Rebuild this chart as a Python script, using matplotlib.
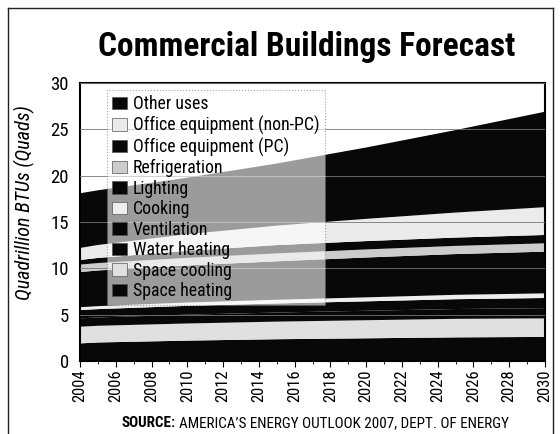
import numpy as np
import matplotlib
matplotlib.use("Agg")
import matplotlib.pyplot as plt
from matplotlib.lines import Line2D
from matplotlib import font_manager

# ── Data (quadrillion BTUs) ──────────────────────────────────────────────────

YEARS = [2004, 2005, 2010, 2015, 2020, 2025, 2030]

SPACE_HEATING = [1.90, 2.00, 2.20, 2.35, 2.45, 2.55, 2.60]
SPACE_COOLING = [1.80, 1.80, 1.85, 1.90, 1.95, 2.00, 2.00]
WATER_HEATING = [0.90, 0.90, 0.95, 0.98, 1.02, 1.06, 1.10]
VENTILATION   = [0.90, 0.90, 0.95, 0.98, 1.02, 1.06, 1.10]
COOKING       = [0.30, 0.32, 0.36, 0.40, 0.43, 0.47, 0.50]
LIGHTING      = [3.80, 3.85, 4.00, 4.15, 4.30, 4.40, 4.50]
REFRIGERATION = [0.80, 0.80, 0.82, 0.85, 0.87, 0.88, 0.90]
OFFICE_PC     = [0.50, 0.55, 0.75, 0.90, 0.90, 0.90, 0.90]
OFFICE_NONPC  = [1.30, 1.40, 1.80, 2.10, 2.40, 2.70, 3.00]
OTHER_USES    = [5.90, 5.90, 6.10, 6.70, 7.70, 8.90, 10.30]

LAYER_NAMES = ["Space heating", "Space cooling", "Water heating", "Ventilation",
               "Cooking", "Lighting", "Refrigeration", "Office equipment (PC)",
               "Office equipment (non-PC)", "Other uses"]
LAYER_VALUES = [SPACE_HEATING, SPACE_COOLING, WATER_HEATING, VENTILATION,
                COOKING, LIGHTING, REFRIGERATION, OFFICE_PC, OFFICE_NONPC,
                OTHER_USES]

XTICKS = list(range(2004, 2031, 2))
YTICKS = [0, 5, 10, 15, 20, 25, 30]

# ── Styles ───────────────────────────────────────────────────────────────────

BLACK = "#080808"
LAYER_COLORS = [BLACK, "#e0e0e0", BLACK, BLACK, "#eeeeee",
                BLACK, "#cccccc", BLACK, "#ebebeb", BLACK]

# pick a narrow face if one is installed, otherwise an Arial-like one
installed = {f.name for f in font_manager.fontManager.ttflist}
FONT = "DejaVu Sans"
for cand in ["Roboto Condensed", "Liberation Sans Narrow", "Open Sans Condensed",
             "Liberation Sans", "Arimo"]:
    if cand in installed:
        FONT = cand
        break
NARROW = FONT.endswith("Narrow") or "Condensed" in FONT
scale = 1.0 if NARROW else 0.9

plt.rcParams["font.family"] = [FONT, "DejaVu Sans"]

fig = plt.figure(figsize=(5.6, 4.34), dpi=100)
ax = fig.add_axes([80 / 560, 1 - 361 / 434, 465 / 560, 278 / 434])

ax.stackplot(YEARS, *LAYER_VALUES, colors=LAYER_COLORS, linewidth=0, zorder=1)

ax.set_xlim(2004, 2030)
ax.set_ylim(0, 30)
ax.set_yticks(YTICKS)
ax.set_xticks(XTICKS)
ax.set_xticks(range(2004, 2031), minor=True)
ax.set_xticklabels([str(y) for y in XTICKS], rotation=90, fontsize=12 * scale)
ax.set_yticklabels([str(v) for v in YTICKS], fontsize=13.5 * scale)
ax.tick_params(axis="y", length=0, pad=8)
ax.tick_params(axis="x", which="major", length=4, width=0.8, pad=2)
ax.tick_params(axis="x", which="minor", length=2, width=0.6)
ax.yaxis.grid(True, color="#777777", linewidth=0.6, zorder=3)
ax.set_axisbelow(False)

for sp in ax.spines.values():
    sp.set_linewidth(1.5)
    sp.set_color("black")

ax.set_ylabel("Quadrillion BTUs (Quads)", style="italic", fontsize=14.5 * scale)
ax.yaxis.set_label_coords(-0.097, 0.57)

# legend, top entry first (reverse of stacking)
handles = []
for name, col in zip(LAYER_NAMES, LAYER_COLORS):
    handles.append(plt.Rectangle((0, 0), 1, 1, facecolor=col,
                                 edgecolor="#555555", linewidth=0.5))
leg = ax.legend(handles[::-1], LAYER_NAMES[::-1], loc="upper left",
                bbox_to_anchor=(0.058, 0.975), borderaxespad=0,
                fontsize=12.8 * scale, handlelength=0.8, handleheight=0.7,
                handletextpad=0.35, labelspacing=0.14, borderpad=0.3,
                framealpha=0.6, facecolor="white", edgecolor="#666666",
                fancybox=False)
leg.get_frame().set_linestyle(":")
leg.get_frame().set_linewidth(0.8)
leg.set_zorder(5)

fig.text(0.548, 0.892, "Commercial Buildings Forecast", ha="center",
         va="center", fontsize=24 * scale, fontweight="bold")

# source line: bold label then the rest
t1 = fig.text(122 / 560, 1 - 423 / 434, "SOURCE:", ha="left", va="center",
              fontsize=10.9 * scale, fontweight="bold")
fig.canvas.draw()
bb = t1.get_window_extent()
fig.text((bb.x1 + 3) / fig.bbox.width, 1 - 423 / 434,
         "AMERICA\u2019S ENERGY OUTLOOK 2007, DEPT. OF ENERGY",
         ha="left", va="center", fontsize=10.9 * scale)

# outer border of the graphic
border = dict(color="#222222", linewidth=1.0, transform=fig.transFigure)
fig.add_artist(Line2D([8 / 560, 8 / 560], [0, 1 - 8 / 434], **border))
fig.add_artist(Line2D([8 / 560, 553 / 560], [1 - 8 / 434, 1 - 8 / 434], **border))
fig.add_artist(Line2D([553 / 560, 553 / 560], [0, 1 - 8 / 434], **border))

fig.savefig("out.png", dpi=100)
